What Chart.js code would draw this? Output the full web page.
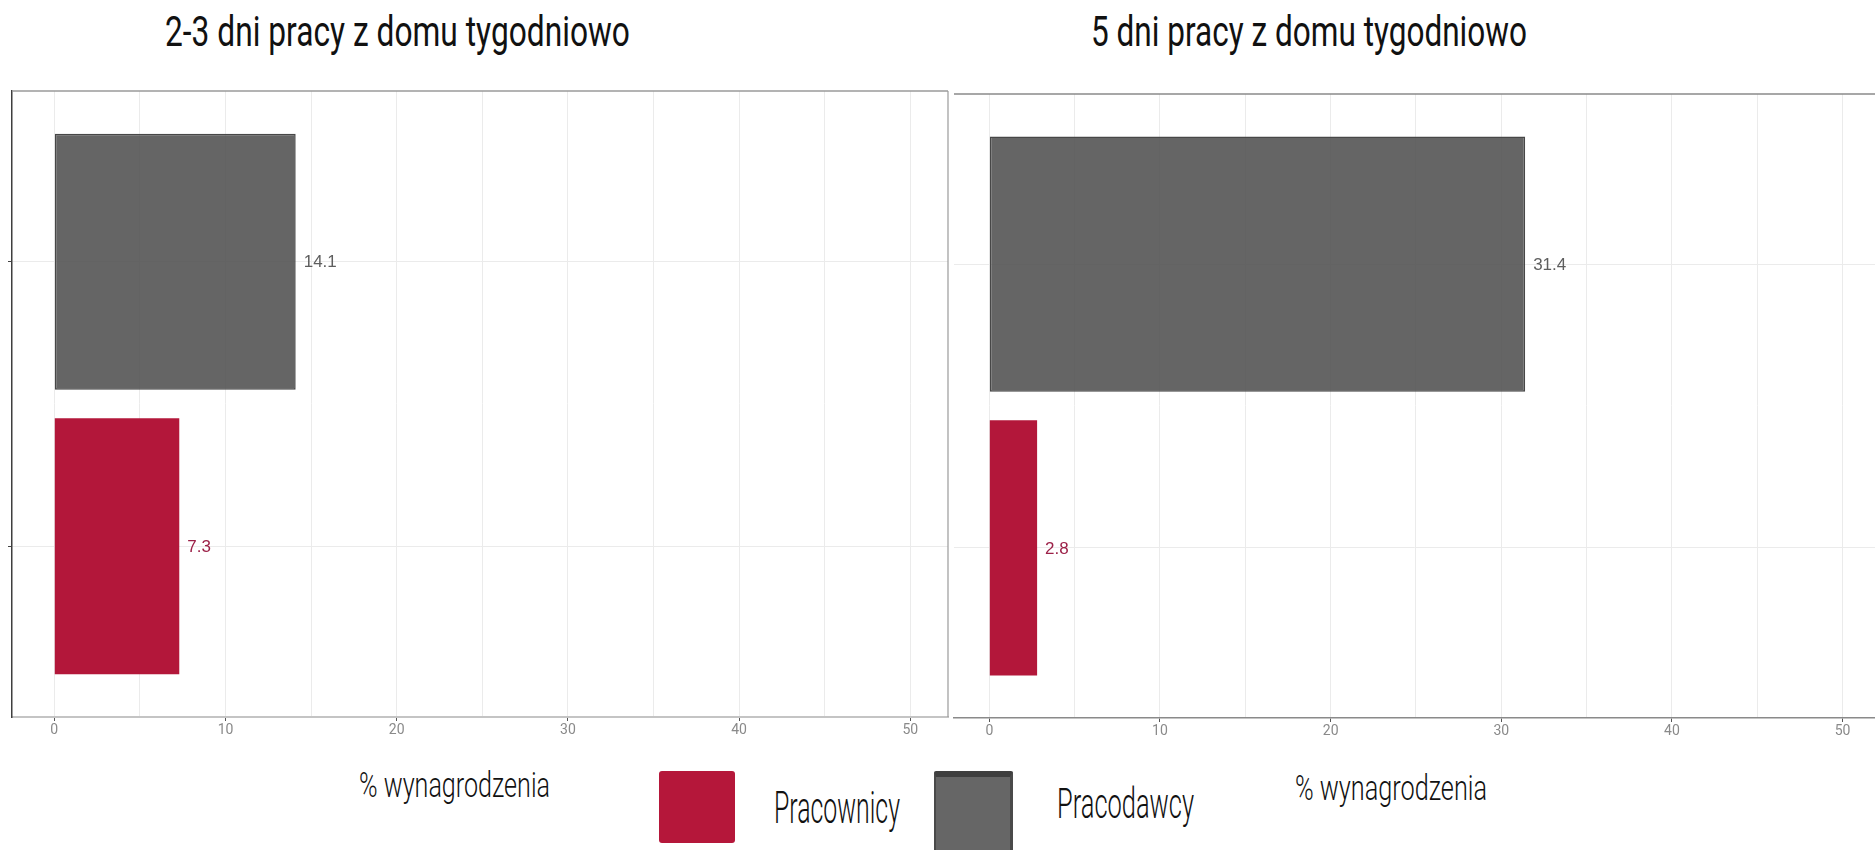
<!DOCTYPE html>
<html>
<head>
<meta charset="utf-8">
<script src="https://cdn.jsdelivr.net/npm/chart.js@4/dist/chart.umd.min.js"></script>
<style>
  html, body { margin: 0; padding: 0; background: #fff; }
  body { width: 1875px; height: 850px; position: relative; overflow: hidden; font-family: Roboto, "Noto Sans", sans-serif; }
  canvas { position: absolute; }
  .txt { position: absolute; white-space: nowrap; line-height: 1; color: #111; transform-origin: 0 0; }
  .swatch { position: absolute; box-sizing: border-box; }
</style>
</head>
<body>
<canvas id="panel0" width="950" height="680" style="left:0px;top:85px"></canvas>
<canvas id="panel1" width="925" height="680" style="left:950px;top:85px"></canvas>

<div id="title0" class="txt"></div>
<div id="title1" class="txt"></div>
<div id="axis0" class="txt"></div>
<div id="axis1" class="txt"></div>
<div id="swatch0" class="swatch"></div>
<div id="legend0" class="txt"></div>
<div id="swatch1" class="swatch"></div>
<div id="legend1" class="txt"></div>

<script>
// ---- data ----
const panelTitles = ['2-3 dni pracy z domu tygodniowo', '5 dni pracy z domu tygodniowo'];
const seriesNames = ['Pracodawcy', 'Pracownicy'];
const pracodawcy = [14.1, 31.4];   // % wynagrodzenia, per panel
const pracownicy = [7.3, 2.8];     // % wynagrodzenia, per panel
const xTickValues = [0, 5, 10, 15, 20, 25, 30, 35, 40, 45, 50];
const xTickLabels = ['0', '', '10', '', '20', '', '30', '', '40', '', '50'];
const axisTitle = '% wynagrodzenia';

// ---- styling ----
const COLORS = {
  Pracodawcy: { fill: 'rgba(80,80,80,0.88)', border: '#474747', label: '#5e5e5e', swatch: '#666666' },
  Pracownicy: { fill: '#b3173a', border: '#b3173a', label: '#9c2148', swatch: '#b5173a' }
};
const GRID = '#ebebeb';

const panelLayout = [
  { canvas: 'panel0', pad: { left: 0, top: 6, right: 2, bottom: 0 }, yAxisWidth: 12, xAxisHeight: 48,
    xMin: -2.47, xMax: 52.2, yTicks: true, leftBorder: '#3f3f3f', rightBorder: '#9a9a9a',
    topBorder: '#9a9a9a', bottomBorder: '#c4c4c4', bottomWidth: 2 },
  { canvas: 'panel1', pad: { left: 4, top: 9, right: 0, bottom: 0 }, yAxisWidth: 0, xAxisHeight: 47,
    xMin: -2.07, xMax: 51.9, yTicks: false, leftBorder: null, rightBorder: null,
    topBorder: '#8a8a8a', bottomBorder: '#8a8a8a', bottomWidth: 1.5 }
];

// frame lines around the plotting area (top / right edges)
const framePlugin = {
  id: 'panelFrame',
  afterDraw(chart, args, opts) {
    const { ctx, chartArea: a } = chart;
    ctx.save();
    if (opts.top) {
      ctx.strokeStyle = opts.top; ctx.lineWidth = 1.5;
      ctx.beginPath(); ctx.moveTo(a.left, a.top); ctx.lineTo(a.right, a.top); ctx.stroke();
    }
    if (opts.right) {
      ctx.strokeStyle = opts.right; ctx.lineWidth = 1.2;
      ctx.beginPath(); ctx.moveTo(a.right, a.top); ctx.lineTo(a.right, a.bottom); ctx.stroke();
    }
    ctx.restore();
  }
};

// value printed just past the end of each bar
const valueLabelPlugin = {
  id: 'valueLabels',
  afterDatasetsDraw(chart) {
    const { ctx } = chart;
    ctx.save();
    ctx.font = '17px "Liberation Sans", Arial, sans-serif';
    ctx.textBaseline = 'middle';
    ctx.textAlign = 'left';
    chart.data.datasets.forEach((ds, di) => {
      const meta = chart.getDatasetMeta(di);
      meta.data.forEach((bar, i) => {
        ctx.fillStyle = COLORS[ds.label].label;
        ctx.fillText(ds.data[i].x.toFixed(1), bar.x + 8, bar.y + 1);
      });
    });
    ctx.restore();
  }
};

function buildPanel(p) {
  const L = panelLayout[p];
  const values = { Pracodawcy: pracodawcy[p], Pracownicy: pracownicy[p] };
  const datasets = seriesNames.map((name, row) => ({
    label: name,
    data: [{ x: values[name], y: row }],
    backgroundColor: COLORS[name].fill,
    borderColor: COLORS[name].border,
    borderWidth: name === 'Pracodawcy' ? 1.5 : 0,
    borderSkipped: false,
    grouped: false,
    categoryPercentage: 1,
    barPercentage: 0.9
  }));

  return new Chart(document.getElementById(L.canvas), {
    type: 'bar',
    data: { datasets },
    plugins: [framePlugin, valueLabelPlugin],
    options: {
      indexAxis: 'y',
      responsive: false,
      animation: false,
      layout: { padding: L.pad },
      plugins: {
        legend: { display: false },
        tooltip: { enabled: false },
        panelFrame: { top: L.topBorder, right: L.rightBorder }
      },
      scales: {
        x: {
          type: 'linear',
          min: L.xMin,
          max: L.xMax,
          offset: false,
          afterBuildTicks: s => { s.ticks = xTickValues.map(v => ({ value: v })); },
          afterFit: s => { s.height = L.xAxisHeight; },
          ticks: {
            autoSkip: false,
            maxRotation: 0,
            padding: 1,
            color: '#8a8a8a',
            font: { family: 'Roboto', size: 14 },
            callback: (v, i) => xTickLabels[i]
          },
          grid: {
            offset: false,
            color: GRID,
            lineWidth: 1,
            tickLength: 4,
            tickColor: c => (xTickLabels[c.index] ? '#555' : 'rgba(0,0,0,0)')
          },
          border: { color: L.bottomBorder, width: L.bottomWidth }
        },
        y: {
          type: 'linear',
          reverse: true,
          min: -0.6,
          max: 1.6,
          offset: false,
          afterBuildTicks: s => { s.ticks = seriesNames.map((n, i) => ({ value: i })); },
          afterFit: s => { s.width = L.yAxisWidth; },
          ticks: { display: false },
          grid: {
            offset: false,
            color: GRID,
            lineWidth: 1,
            drawTicks: L.yTicks,
            tickLength: 4,
            tickColor: '#444'
          },
          border: { display: !!L.leftBorder, color: L.leftBorder || GRID, width: 1.5 }
        }
      }
    }
  });
}

// ---- text & legend placement (condensed look via horizontal scaling) ----
const textLayout = [
  { id: 'title0', text: panelTitles[0], size: 42, left: 165, right: 630, baseline: 46, weight: 400 },
  { id: 'title1', text: panelTitles[1], size: 42, left: 1091, right: 1527, baseline: 46, weight: 400 },
  { id: 'axis0', text: axisTitle, size: 35, left: 359, right: 550, baseline: 797, weight: 300 },
  { id: 'axis1', text: axisTitle, size: 35, left: 1295, right: 1487, baseline: 800, weight: 300 },
  { id: 'legend0', text: seriesNames[1], size: 44, left: 774, right: 900, baseline: 823, weight: 300 },
  { id: 'legend1', text: seriesNames[0], size: 42, left: 1057, right: 1194, baseline: 818, weight: 300 }
];

function placeText() {
  textLayout.forEach(t => {
    const el = document.getElementById(t.id);
    el.textContent = t.text;
    el.style.fontSize = t.size + 'px';
    el.style.fontWeight = t.weight;
    el.style.left = t.left + 'px';
    el.style.top = (t.baseline - 0.8415 * t.size) + 'px';
    el.style.transform = 'none';
    const w = el.getBoundingClientRect().width;
    el.style.transform = 'scaleX(' + ((t.right - t.left) / w).toFixed(4) + ')';
  });

  const s0 = document.getElementById('swatch0');   // Pracownicy
  Object.assign(s0.style, { left: '659px', top: '771px', width: '76px', height: '72px',
    background: COLORS.Pracownicy.swatch, borderRadius: '3px' });
  const s1 = document.getElementById('swatch1');   // Pracodawcy
  Object.assign(s1.style, { left: '934px', top: '771px', width: '79px', height: '79px',
    background: COLORS.Pracodawcy.swatch, borderTop: '6px solid #3f3f3f',
    borderLeft: '2px solid #4a4a4a', borderRight: '3px solid #4a4a4a', borderRadius: '2px 2px 0 0' });
}

buildPanel(0);
buildPanel(1);
placeText();
if (document.fonts && document.fonts.ready) document.fonts.ready.then(placeText);
</script>
</body>
</html>
